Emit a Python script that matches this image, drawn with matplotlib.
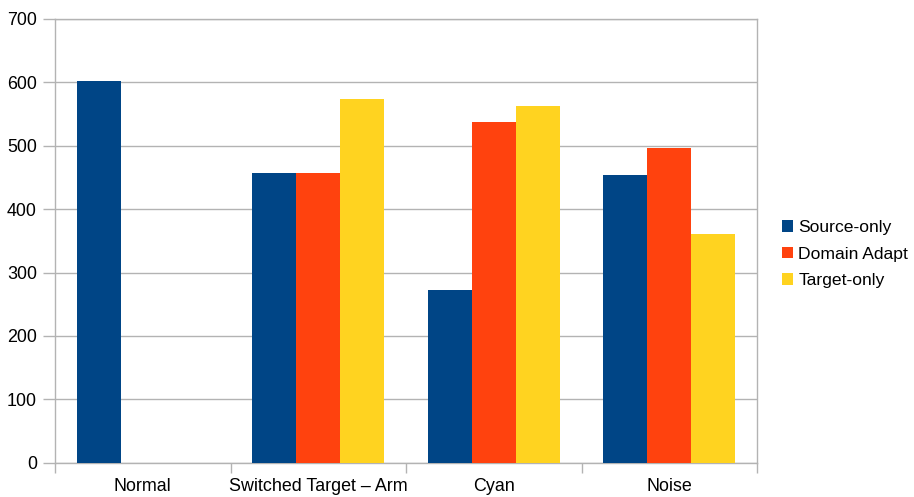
import matplotlib
matplotlib.use("Agg")
import matplotlib.pyplot as plt
import numpy as np

categories = ["Normal", "Switched Target \u2013 Arm", "Cyan", "Noise"]
series_names = ["Source-only", "Domain Adapt", "Target-only"]
source_only = [602, 457, 273, 454]
domain_adapt = [0, 457, 537, 497]
target_only = [0, 573, 563, 361]
colors = ["#004586", "#ff420e", "#ffd320"]

plt.rcParams["font.family"] = ["Liberation Sans", "DejaVu Sans"]

fig = plt.figure(figsize=(9.14, 4.97), dpi=100)
W, H = 914, 497
ax = fig.add_axes([55 / W, (H - 462.7) / H, (757 - 55) / W, (462.7 - 18.9) / H])

x = np.arange(len(categories))
width = 0.25
grid_c = "#b3b3b3"
fs = 12.9
for i, (vals, name, c) in enumerate(zip([source_only, domain_adapt, target_only], series_names, colors)):
    ax.bar(x + (i - 1) * width, vals, width, color=c, label=name, zorder=3)

ax.set_xlim(-0.5, len(categories) - 0.5)
ax.set_ylim(0, 700)
ax.set_yticks(range(0, 701, 100))
ax.yaxis.grid(True, color=grid_c, linewidth=1.0, zorder=0)
ax.set_xticks(x)
ax.set_xticklabels(categories)
ax.set_xticks(np.arange(-0.5, len(categories)), minor=True)
ax.tick_params(axis="x", which="major", length=0, pad=11, labelsize=fs, colors="#000000")
ax.tick_params(axis="x", which="minor", length=7, width=1, color=grid_c)
ax.tick_params(axis="y", length=9, width=1, color=grid_c, pad=4, labelsize=fs)
for s in ax.spines.values():
    s.set_color(grid_c)
    s.set_linewidth(1.0)

fig.legend(loc="upper left", bbox_to_anchor=(775 / W, 1 - 213 / H), frameon=False,
           fontsize=12.6, handlelength=0.64, handleheight=0.64, handletextpad=0.3,
           labelspacing=0.66, borderaxespad=0)

fig.savefig("out.png", dpi=100)
